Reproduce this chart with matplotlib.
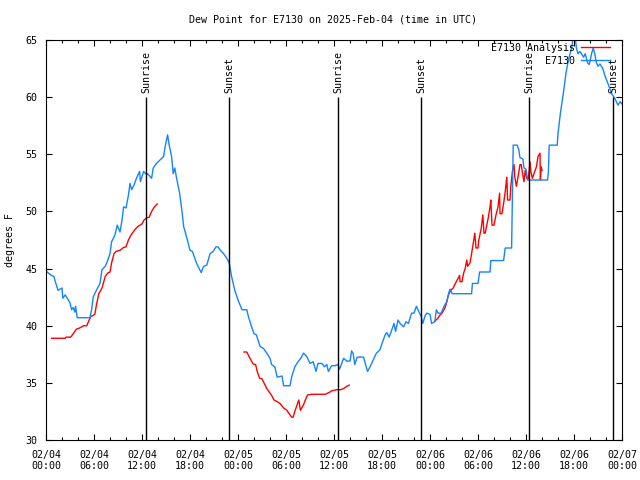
"""
Dew point for station E7130, observations vs. analysis, 2025-02-04 .. 02-07 (UTC).
"""
import numpy as np
import pandas as pd
import matplotlib
matplotlib.use("Agg")
import matplotlib.pyplot as plt
import matplotlib.dates as mdates

plt.rcParams["font.family"] = ["DejaVu Sans Mono"]
FS = 7.2

START = pd.Timestamp("2025-02-04 00:00")

# station observations (hours since 02/04 00:00 UTC, deg F)
obs_hours = [
    0.0, 0.3, 0.7, 1.0, 1.1, 1.5, 2.0, 2.1, 2.4, 2.8, 3.0, 3.2, 3.4, 3.6, 3.7,
    3.9, 5.5, 5.7, 5.9, 6.3, 6.75, 7.0, 7.4, 7.6, 8.0, 8.2, 8.6, 8.9, 9.25, 9.5,
    9.7, 10.0, 10.3, 10.5, 10.7, 11.0, 11.3, 11.7, 11.8, 12.2, 12.6, 12.7, 13.2,
    13.4, 13.8, 14.25, 14.7, 14.9, 15.2, 15.4, 15.7, 15.9, 16.1, 16.3, 16.7,
    17.0, 17.2, 17.6, 18.0, 18.3, 18.8, 19.4, 19.7, 20.1, 20.5, 20.9, 21.25,
    21.5, 21.8, 22.2, 22.6, 22.9, 23.2, 23.6, 24.0, 24.5, 25.1, 25.3, 25.7,
    26.0, 26.3, 26.75, 27.2, 27.6, 28.0, 28.2, 28.6, 28.9, 29.5, 29.7, 30.5,
    30.7, 31.1, 31.5, 31.8, 32.2, 32.6, 33.0, 33.4, 33.75, 34.0, 34.5, 34.8,
    35.1, 35.3, 35.7, 36.1, 36.5, 36.7, 37.2, 37.6, 38.0, 38.2, 38.4, 38.6,
    38.9, 39.7, 39.9, 40.2, 40.5, 40.9, 41.3, 41.75, 42.0, 42.4, 42.6, 42.9,
    43.2, 43.5, 43.7, 44.0, 44.25, 44.7, 45.0, 45.3, 45.7, 46.0, 46.3, 46.7,
    46.9, 47.1, 47.4, 47.6, 48.0, 48.2, 48.6, 48.8, 49.0, 49.4, 49.75, 50.1,
    50.4, 50.5, 50.8, 53.2, 53.3, 54.0, 54.2, 55.5, 55.6, 57.2, 57.4, 58.2,
    58.25, 58.4, 58.9, 59.1, 59.25, 59.6, 59.75, 60.0, 60.2, 62.7, 62.8, 62.9,
    63.9, 64.0, 64.3, 64.7, 65.0, 65.3, 65.7, 65.9, 66.1, 66.3, 66.5, 66.75,
    67.2, 67.4, 67.7, 67.9, 68.2, 68.4, 68.6, 68.8, 69.0, 69.25, 69.6, 69.9,
    70.3, 70.7, 71.1, 71.5, 71.75, 72.0,
]
obs_dewpt = [
    44.8, 44.6, 44.4, 44.3, 44.0, 43.1, 43.3, 42.4, 42.7, 42.25, 42.0, 41.4,
    41.6, 41.2, 41.7, 40.7, 40.7, 41.4, 42.5, 43.1, 43.7, 44.9, 45.2, 45.5,
    46.3, 47.35, 47.9, 48.8, 48.2, 49.25, 50.4, 50.3, 51.4, 52.45, 51.9, 52.3,
    52.9, 53.5, 52.6, 53.5, 53.2, 53.3, 52.9, 53.8, 54.2, 54.5, 54.8, 55.7,
    56.7, 55.8, 54.8, 53.3, 53.8, 53.0, 51.6, 50.0, 48.7, 47.7, 46.6, 46.5,
    45.5, 44.65, 45.2, 45.3, 46.3, 46.5, 46.9, 46.9, 46.6, 46.3, 45.9, 45.5,
    44.3, 43.1, 42.25, 41.4, 41.4, 40.8, 39.9, 39.3, 39.2, 38.2, 38.0, 37.6,
    37.15, 36.6, 36.4, 35.5, 35.6, 34.75, 34.75, 35.5, 36.4, 36.85, 37.1,
    37.6, 37.3, 36.7, 36.85, 36.0, 36.7, 36.7, 36.4, 36.6, 36.0, 36.5, 36.5,
    36.6, 36.2, 37.15, 36.9, 36.9, 37.8, 37.55, 36.6, 37.25, 37.25, 36.7,
    36.0, 36.4, 37.0, 37.6, 37.9, 38.45, 39.2, 39.4, 39.0, 39.6, 40.2, 39.5,
    40.5, 40.2, 39.9, 40.35, 40.2, 41.1, 41.1, 41.7, 41.1, 40.8, 40.2, 40.9,
    41.1, 41.0, 40.2, 40.35, 41.4, 41.1, 41.1, 41.7, 42.1, 43.0, 43.2, 42.8,
    42.8, 43.7, 43.7, 44.7, 44.7, 45.7, 45.7, 46.8, 46.8, 49.0, 55.8, 55.8,
    55.4, 54.7, 54.6, 53.8, 53.7, 52.75, 52.75, 53.5, 55.8, 55.8, 56.8, 58.6,
    60.5, 62.1, 63.25, 64.3, 65.2, 65.6, 64.3, 63.8, 64.0, 63.5, 63.8, 63.0,
    62.85, 63.8, 64.3, 63.8, 63.0, 62.7, 62.9, 62.5, 61.8, 61.1, 60.3, 59.9,
    59.3, 59.6, 59.4,
]

# analysis (NaN = no analysis)
ana_hours = [
    0.7, 2.4, 2.5, 3.1, 3.4, 3.8, 4.2, 4.7, 5.1, 5.3, 5.6, 5.9, 6.1, 6.3, 6.6,
    7.0, 7.4, 7.7, 8.0, 8.2, 8.5, 8.75, 9.25, 9.7, 10.0, 10.3, 10.6, 10.8,
    11.1, 11.5, 12.0, 12.25, 12.6, 12.9, 13.2, 13.5, 13.9, 19.0,
    24.75, 25.1, 25.5, 25.9, 26.2, 26.4, 26.7, 27.0, 27.25, 27.6, 27.9, 28.2,
    28.5, 28.9, 29.25, 29.7, 30.1, 30.4, 30.7, 30.9, 31.1, 31.3, 31.6, 31.8,
    32.2, 32.5, 32.7, 33.2, 34.9, 35.2, 35.5, 35.7, 36.3, 36.8, 37.2, 37.6,
    37.9, 43.0,
    48.6, 49.0, 49.2, 49.5, 49.9, 50.1, 50.3, 50.6, 50.9, 51.1, 51.4, 51.7,
    51.75, 52.0, 52.2, 52.4, 52.6, 52.7, 53.0, 53.2, 53.4, 53.6, 53.75, 54.0,
    54.1, 54.4, 54.6, 54.75, 54.9, 55.1, 55.3, 55.5, 55.6, 55.75, 56.0, 56.25,
    56.5, 56.7, 56.75, 57.0, 57.2, 57.4, 57.6, 57.7, 58.0, 58.1, 58.3, 58.5,
    58.6, 58.8, 59.0, 59.25, 59.4, 59.6, 59.75, 59.9, 60.1, 60.3, 60.5, 60.6,
    60.8, 61.1, 61.3, 61.5, 61.75, 61.8, 61.9, 62.0,
]
ana_dewpt = [
    38.9, 38.9, 39.0, 39.0, 39.3, 39.7, 39.8, 40.0, 40.0, 40.35, 40.8, 40.9,
    41.0, 41.8, 42.8, 43.3, 44.3, 44.6, 44.7, 45.5, 46.3, 46.5, 46.6, 46.85,
    46.9, 47.5, 47.9, 48.1, 48.4, 48.7, 48.9, 49.25, 49.45, 49.5, 50.0, 50.35,
    50.65, np.nan,
    37.7, 37.7, 37.15, 36.65, 36.6, 36.0, 35.4, 35.35, 35.0, 34.5, 34.2, 33.9,
    33.5, 33.35, 33.2, 32.8, 32.6, 32.3, 32.0, 32.0, 32.5, 32.9, 33.5, 32.6,
    33.1, 33.65, 33.95, 34.0, 34.0, 34.1, 34.2, 34.3, 34.4, 34.4, 34.5, 34.7,
    34.8, np.nan,
    40.4, 40.65, 40.9, 41.1, 41.6, 42.1, 42.7, 43.1, 43.3, 43.6, 44.0, 44.4,
    43.85, 43.85, 44.6, 45.0, 45.75, 45.2, 45.5, 46.3, 47.2, 48.1, 46.8, 46.8,
    47.5, 48.5, 49.7, 48.1, 48.1, 48.8, 49.5, 50.4, 51.0, 48.8, 48.8, 49.7,
    50.4, 51.6, 49.8, 49.8, 50.7, 51.7, 53.0, 51.0, 51.0, 52.2, 53.5, 54.1,
    53.0, 52.2, 53.0, 54.1, 54.1, 53.2, 52.6, 53.6, 52.9, 52.9, 54.35, 53.5,
    52.9, 53.5, 53.9, 54.8, 55.1, 52.75, 53.9, 53.6,
]

# sunrise / sunset (hours since 02/04 00:00 UTC)
sun_hours = [12.54, 22.9, 36.54, 46.9, 60.42, 70.9]
sun_labels = ["Sunrise", "Sunset", "Sunrise", "Sunset", "Sunrise", "Sunset"]


def to_time(hours):
    return START + pd.to_timedelta(hours, unit="h")


fig = plt.figure(figsize=(6.4, 4.8), dpi=100)
ax = fig.add_axes([46 / 640, 40 / 480, 576 / 640, 400 / 480])

ax.plot(to_time(ana_hours), ana_dewpt, color="#ff0000", lw=1.0,
        label="E7130 Analysis")
ax.plot(to_time(obs_hours), obs_dewpt, color="#1484ff", lw=1.0,
        label="E7130")

for h, lab in zip(sun_hours, sun_labels):
    t = to_time(h)
    ax.vlines(t, 30, 60, color="black", lw=1.0)
    ax.text(t, 60.4, lab, rotation=90, ha="center", va="bottom", fontsize=FS)

ax.set_xlim(START, START + pd.Timedelta(hours=72))
ax.set_ylim(30, 65)
ax.set_yticks(range(30, 66, 5))

ax.xaxis.set_major_locator(mdates.HourLocator(byhour=[0, 6, 12, 18]))
ax.xaxis.set_minor_locator(mdates.HourLocator(interval=2))
ax.xaxis.set_major_formatter(mdates.DateFormatter("%m/%d\n%H:%M"))

ax.tick_params(which="both", direction="in", top=True, right=True,
               labelsize=FS, width=0.8)
ax.tick_params(which="major", length=4)
ax.tick_params(which="minor", length=2.5)
ax.tick_params(axis="y", pad=6)
ax.tick_params(axis="x", pad=7)
for sp in ax.spines.values():
    sp.set_linewidth(0.8)

ax.legend(loc="upper right", bbox_to_anchor=(1 - 12 / 576, 1 - 3 / 400),
          markerfirst=False, frameon=False, fontsize=FS, borderpad=0,
          borderaxespad=0, handlelength=2.9, handletextpad=0.6,
          labelspacing=0.3)

fig.text(333 / 640, 1 - 19 / 480,
         "Dew Point for E7130 on 2025-Feb-04 (time in UTC)",
         ha="center", va="center", fontsize=FS)
fig.text(10 / 640, 0.5, "degrees F", rotation=90, ha="center", va="center",
         fontsize=FS)

fig.savefig("out.png", dpi=100)
